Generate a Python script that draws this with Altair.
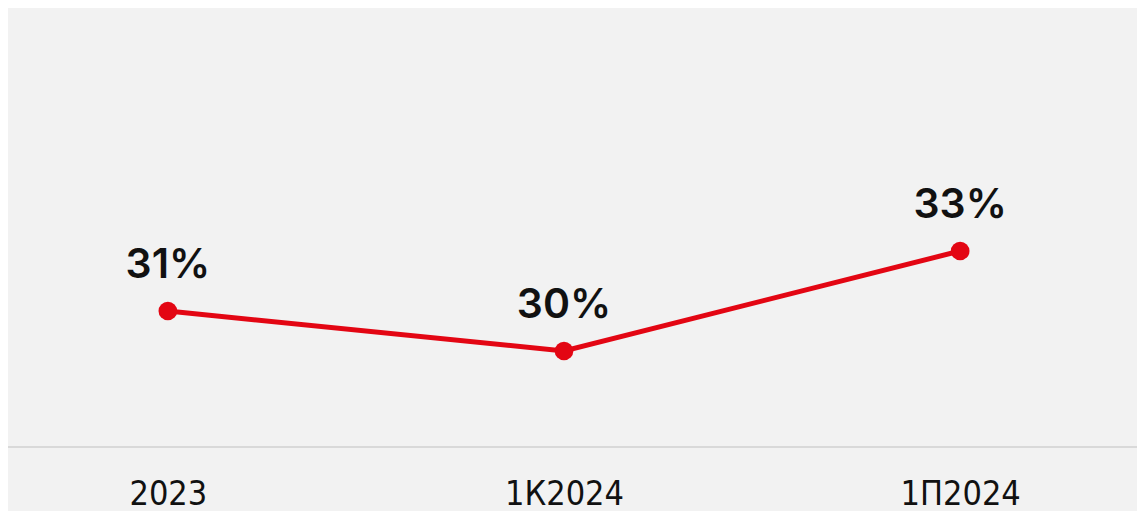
import altair as alt
import pandas as pd

periods = ["2023", "1К2024", "1П2024"]
values = [31.4, 30.2, 33.2]
labels = ["31%", "30%", "33%"]

df = pd.DataFrame({"period": periods, "value": values, "label": labels})

RED = "#e30613"

x = alt.X(
    "period:N",
    sort=periods,
    scale=alt.Scale(type="point", padding=0.4035),
    axis=alt.Axis(
        title=None, domain=False, ticks=False, grid=False, labelAngle=0,
        labelFont="Liberation Sans Narrow, DejaVu Sans Condensed, sans-serif",
        labelFontSize=34, labelColor="#111111", labelBaseline="top", labelPadding=30,
    ),
)
y = alt.Y("value:Q", scale=alt.Scale(domain=[27.32, 40.49], zero=False, nice=False), axis=None)

base = alt.Chart(df)

rule = alt.Chart(pd.DataFrame({"a": [0]})).mark_rule(color="#d9d9d9", strokeWidth=2).encode(
    x=alt.value(-10), x2=alt.value(1160), y=alt.value(439)
)

line = base.mark_line(color=RED, strokeWidth=5).encode(x=x, y=y)
points = base.mark_circle(color=RED, size=350, opacity=1).encode(x=x, y=y)
text = base.mark_text(
    font="Inter", fontSize=41, fontWeight=600, color="#111111", baseline="alphabetic", dy=-33
).encode(x=x, y=y, text="label:N")

chart = alt.layer(rule, line, points, text).properties(
    width=1112, height=439,
    autosize=alt.AutoSizeParams(type="none"),
    padding={"left": 0, "top": 0, "right": 17, "bottom": 64},
    background="#f2f2f2",
).configure_view(stroke=None)

chart.save("out.html", embed_options={"renderer": "svg", "actions": False})
